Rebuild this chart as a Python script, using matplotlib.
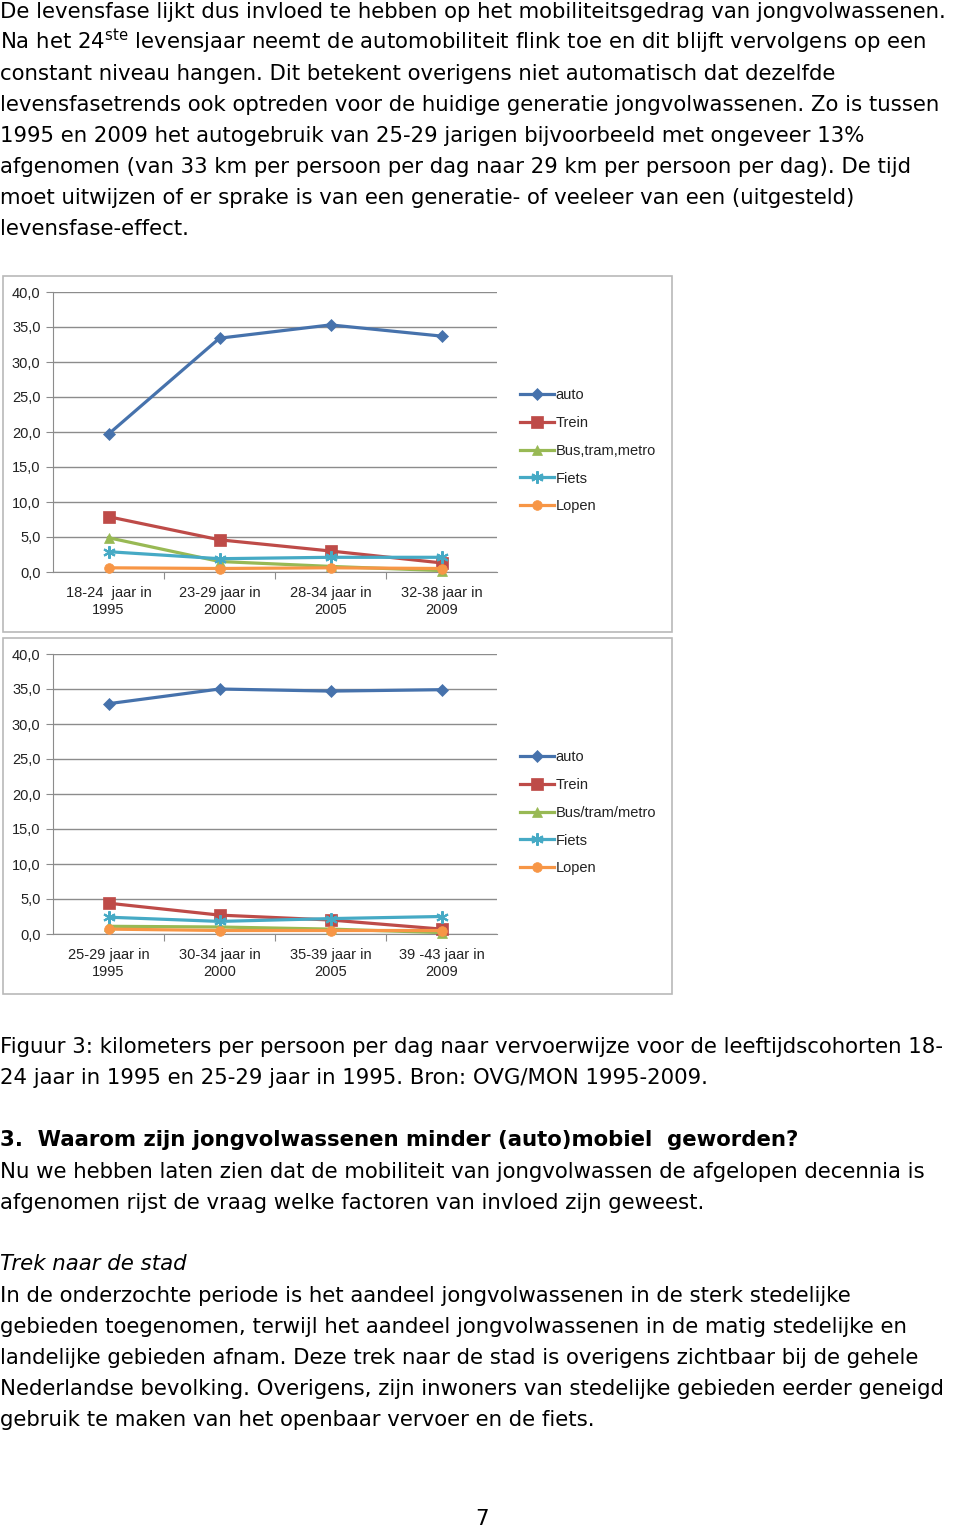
"""Pagina 7: twee lijngrafieken (km per persoon per dag) met omringende tekst."""
import matplotlib
matplotlib.use("Agg")
import matplotlib.pyplot as plt
from matplotlib.patches import Rectangle

# ================================================
# DATA
# ================================================
modi_1 = ["auto", "Trein", "Bus,tram,metro", "Fiets", "Lopen"]
modi_2 = ["auto", "Trein", "Bus/tram/metro", "Fiets", "Lopen"]

cohort_1 = ["18-24  jaar in\n1995", "23-29 jaar in\n2000", "28-34 jaar in\n2005", "32-38 jaar in\n2009"]
cohort_2 = ["25-29 jaar in\n1995", "30-34 jaar in\n2000", "35-39 jaar in\n2005", "39 -43 jaar in\n2009"]

# grafiek 1: cohort 18-24 jaar in 1995
auto_1 = [19.7, 33.4, 35.3, 33.7]
trein_1 = [7.9, 4.6, 3.0, 1.3]
bus_1 = [4.9, 1.5, 0.8, 0.2]
fiets_1 = [2.9, 1.9, 2.1, 2.1]
lopen_1 = [0.6, 0.5, 0.6, 0.5]

# grafiek 2: cohort 25-29 jaar in 1995
auto_2 = [32.9, 35.0, 34.7, 34.9]
trein_2 = [4.4, 2.7, 2.0, 0.7]
bus_2 = [1.1, 1.0, 0.7, 0.2]
fiets_2 = [2.4, 1.8, 2.2, 2.5]
lopen_2 = [0.7, 0.5, 0.5, 0.5]

y_ticks = [0, 5, 10, 15, 20, 25, 30, 35, 40]

# ================================================
# STIJL
# ================================================
W, H = 960, 1528
KLEUREN = ["#4672AC", "#BE4B48", "#98B954", "#46AAC5", "#F79646"]
MARKERS = ["D", "s", "^", (6, 2, 0), "o"]
MSIZES = [6, 8, 7, 9, 7]
TEKST_FONT = ["DejaVu Sans"]
GRAFIEK_FONT = ["Liberation Sans Narrow", "Liberation Sans", "DejaVu Sans"]
BODY = 15.3


def fx(x):
    return x / W


def fy(y):
    return 1 - y / H


def tekst(x, y, s, **kw):
    kw.setdefault("fontsize", BODY)
    kw.setdefault("family", TEKST_FONT)
    fig.text(fx(x), fy(y), s, va="baseline", ha=kw.pop("ha", "left"), color="black", **kw)


def grafiek(top, reeksen, labels, cats, legenda_y):
    # kader rond de grafiek
    fig.patches.append(Rectangle((fx(3), fy(top + 356)), fx(669), 356 / H,
                                 transform=fig.transFigure, facecolor="white",
                                 edgecolor="#b9b9b9", linewidth=1.2, zorder=-1))
    ax = fig.add_axes([fx(53), fy(top + 296), fx(444), 280 / H])
    ax.patch.set_alpha(0)
    x = range(len(cats))
    for vals, lab, kl, mk, ms in zip(reeksen, labels, KLEUREN, MARKERS, MSIZES):
        ax.plot(x, vals, color=kl, marker=mk, markersize=ms, linewidth=2.3,
                markeredgewidth=1.5 if mk == (6, 2, 0) else 0.5,
                markeredgecolor=kl, label=lab, clip_on=False, zorder=3)
    ax.set_xlim(-0.5, 3.5)
    ax.set_ylim(0, 40)
    ax.set_yticks(y_ticks)
    ax.set_yticklabels([f"{v:.1f}".replace(".", ",") for v in y_ticks],
                       family=GRAFIEK_FONT, fontsize=10.5, color="#222222")
    ax.yaxis.grid(True, color="#8c8c8c", linewidth=1)
    ax.set_axisbelow(True)
    ax.set_xticks([0.5, 1.5, 2.5], minor=False)
    ax.set_xticklabels([])
    ax.set_xticks(list(x), minor=True)
    ax.set_xticklabels(cats, minor=True, family=GRAFIEK_FONT, fontsize=10.5,
                       color="#222222", linespacing=1.3)
    ax.tick_params(axis="x", which="minor", length=0, pad=10)
    ax.tick_params(axis="x", which="major", length=5, color="#8c8c8c", direction="out")
    ax.tick_params(axis="y", length=5, color="#8c8c8c", pad=4)
    for kant in ["top", "right"]:
        ax.spines[kant].set_visible(False)
    ax.spines["left"].set_color("#8c8c8c")
    ax.spines["bottom"].set_color("#8c8c8c")
    leg = ax.legend(loc="upper left", bbox_to_anchor=(fx(520), fy(legenda_y)),
                    bbox_transform=fig.transFigure, frameon=False,
                    prop={"family": GRAFIEK_FONT, "size": 10.5},
                    handlelength=2.3, handletextpad=0.15, labelspacing=0.95,
                    borderpad=0, borderaxespad=0)
    for t in leg.get_texts():
        t.set_color("#222222")
    return ax


# ================================================
# FIGUUR
# ================================================
fig = plt.figure(figsize=(W / 100, H / 100), dpi=100)
fig.patch.set_facecolor("white")

boven = [
    "De levensfase lijkt dus invloed te hebben op het mobiliteitsgedrag van jongvolwassenen.",
    "Na het 24$^{\\mathrm{ste}}$ levensjaar neemt de automobiliteit flink toe en dit blijft vervolgens op een",
    "constant niveau hangen. Dit betekent overigens niet automatisch dat dezelfde",
    "levensfasetrends ook optreden voor de huidige generatie jongvolwassenen. Zo is tussen",
    "1995 en 2009 het autogebruik van 25-29 jarigen bijvoorbeeld met ongeveer 13%",
    "afgenomen (van 33 km per persoon per dag naar 29 km per persoon per dag). De tijd",
    "moet uitwijzen of er sprake is van een generatie- of veeleer van een (uitgesteld)",
    "levensfase-effect.",
]
for i, regel in enumerate(boven):
    tekst(0, 18 + 31 * i, regel)

grafiek(276, [auto_1, trein_1, bus_1, fiets_1, lopen_1], modi_1, cohort_1, 388)
grafiek(638, [auto_2, trein_2, bus_2, fiets_2, lopen_2], modi_2, cohort_2, 750)

tekst(0, 1053, "Figuur 3: kilometers per persoon per dag naar vervoerwijze voor de leeftijdscohorten 18-")
tekst(0, 1084, "24 jaar in 1995 en 25-29 jaar in 1995. Bron: OVG/MON 1995-2009.")

tekst(0, 1146, "3.  Waarom zijn jongvolwassenen minder (auto)mobiel  geworden?", fontweight="bold")
tekst(0, 1178, "Nu we hebben laten zien dat de mobiliteit van jongvolwassen de afgelopen decennia is")
tekst(0, 1209, "afgenomen rijst de vraag welke factoren van invloed zijn geweest.")

tekst(0, 1270, "Trek naar de stad", style="italic")
onder = [
    "In de onderzochte periode is het aandeel jongvolwassenen in de sterk stedelijke",
    "gebieden toegenomen, terwijl het aandeel jongvolwassenen in de matig stedelijke en",
    "landelijke gebieden afnam. Deze trek naar de stad is overigens zichtbaar bij de gehele",
    "Nederlandse bevolking. Overigens, zijn inwoners van stedelijke gebieden eerder geneigd",
    "gebruik te maken van het openbaar vervoer en de fiets.",
]
for i, regel in enumerate(onder):
    tekst(0, 1302 + 31 * i, regel)

tekst(482, 1525, "7", ha="center")

fig.savefig("out.png", dpi=100)
